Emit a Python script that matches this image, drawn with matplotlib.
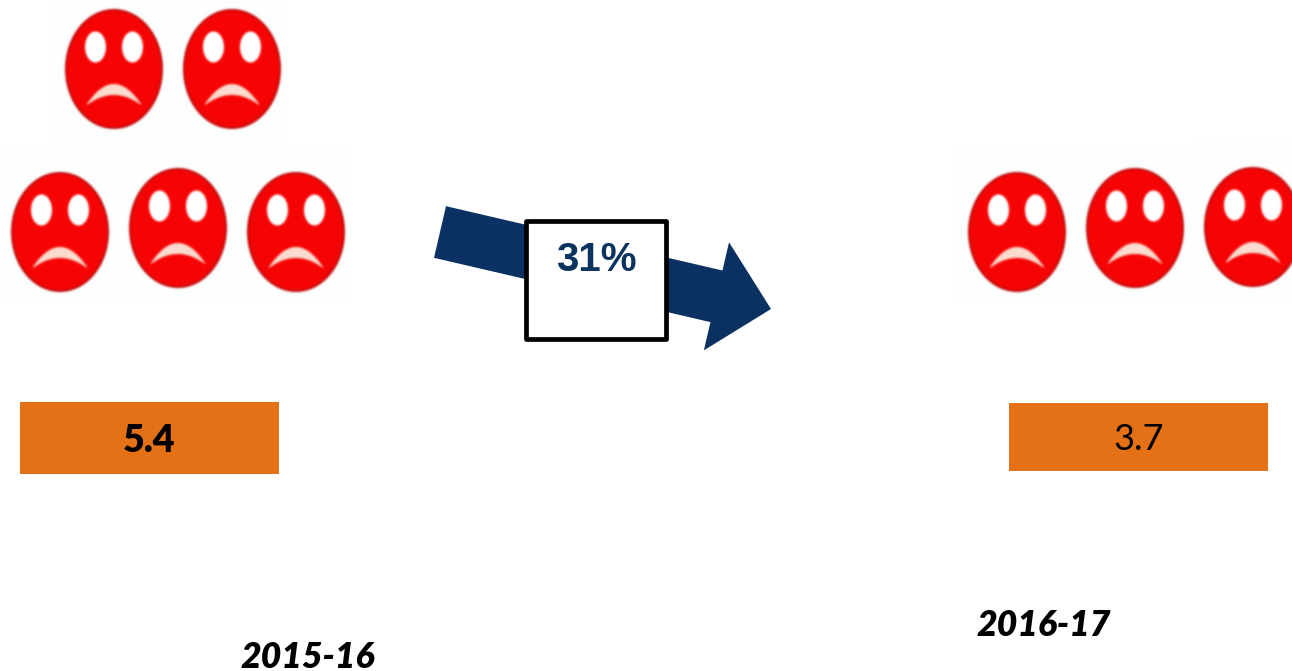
#两个年度的对比示意图
import numpy as np
import matplotlib
matplotlib.use('Agg')
import matplotlib.pyplot as plt
from matplotlib.patches import Ellipse, Polygon, Rectangle, FancyArrow

plt.rcParams['font.family'] = ['Lato', 'DejaVu Sans']

years = ['2015-16', '2016-17']
values = [5.4, 3.7]
change_label = '31%'
face_counts = [5, 3]

W, H = 1292, 671
RED = '#F60404'
ORANGE = '#E57116'
NAVY = '#0B3360'
SCALE = 3


#先在小画布上画一个哭脸，模糊后当作贴图重复使用
def make_face():
    tw, th = 118, 156
    f = plt.figure(figsize=(tw * SCALE / 100, th * SCALE / 100), dpi=100)
    a = f.add_axes([0, 0, 1, 1])
    a.set_xlim(-61, 57)
    a.set_ylim(71, -85)
    a.axis('off')
    f.patch.set_facecolor('#FDFEFE')
    a.add_patch(Ellipse((0, 0), 98, 120, fc='#C00A0A', ec='none'))
    a.add_patch(Ellipse((0, 0), 94, 116, fc=RED, ec='none'))
    for dx in (-18.5, 18.5):
        a.add_patch(Ellipse((dx, -22), 21, 31, fc='white', ec='none'))
    t = np.linspace(-1, 1, 40)
    upper = 15 + 20 * t ** 2
    lower = 26 + 10 * t ** 2
    xs = 27 * t
    pts = np.concatenate([np.c_[xs, upper], np.c_[xs[::-1], lower[::-1]]])
    a.add_patch(Polygon(pts, closed=True, fc='#FBDCCF', ec='none'))
    f.canvas.draw()
    img = np.asarray(f.canvas.buffer_rgba())[:, :, :3] / 255.0
    plt.close(f)
    #可分离高斯模糊
    r = 3 * SCALE
    k = np.exp(-0.5 * (np.arange(-r, r + 1) / (1.0 * SCALE)) ** 2)
    k = k / k.sum()
    pad = np.pad(img, ((r, r), (r, r), (0, 0)), mode='edge')
    pad = np.apply_along_axis(lambda c: np.convolve(c, k, mode='same'), 0, pad)
    pad = np.apply_along_axis(lambda c: np.convolve(c, k, mode='same'), 1, pad)
    return pad[r:-r, r:-r]


#橙色数值框
def draw_value(ax, x, y, w, h, value, **kw):
    ax.add_patch(Rectangle((x, y), w, h, fc=ORANGE, ec='none', zorder=2))
    ax.text(x + w / 2, y + h / 2 + 3, '%s' % value, ha='center', va='center', color='black', zorder=3, **kw)


face = make_face()

fig = plt.figure(figsize=(W / 100, H / 100), dpi=100)
ax = fig.add_axes([0, 0, 1, 1])

left_faces = [(114, 69), (232, 69), (60, 232), (178, 228), (296, 232)]
right_faces = [(1017, 232), (1135, 228), (1253, 227)]
for cx, cy in left_faces[:face_counts[0]] + right_faces[:face_counts[1]]:
    ax.imshow(face, extent=(cx - 61, cx + 57, cy + 71, cy - 85), interpolation='bilinear', zorder=1)

ax.set_xlim(0, W)
ax.set_ylim(H, 0)
ax.set_aspect('auto')
ax.axis('off')

#箭头和中间的百分比框
ax.add_patch(FancyArrow(440, 232, 331, 77, width=53, head_width=111, head_length=56,
                        length_includes_head=True, fc='#0A3161', ec='none', zorder=2))
ax.add_patch(Rectangle((526, 221), 140, 118, fc='white', ec='black', lw=3.4, joinstyle='round', zorder=3))
ax.text(596.5, 260, change_label, ha='center', va='center', color=NAVY, fontsize=29,
        fontweight='bold', family=['Liberation Sans', 'DejaVu Sans'], zorder=4)

draw_value(ax, 20, 402, 259, 72, values[0], fontsize=27, fontweight='heavy')
draw_value(ax, 1009, 403, 259, 68, values[1], fontsize=26)

ax.text(308, 657, years[0], ha='center', va='center', fontsize=25.7, fontweight='heavy', style='italic')
ax.text(1044, 625, years[1], ha='center', va='center', fontsize=25.7, fontweight='heavy', style='italic')

fig.savefig('out.png', dpi=100)
